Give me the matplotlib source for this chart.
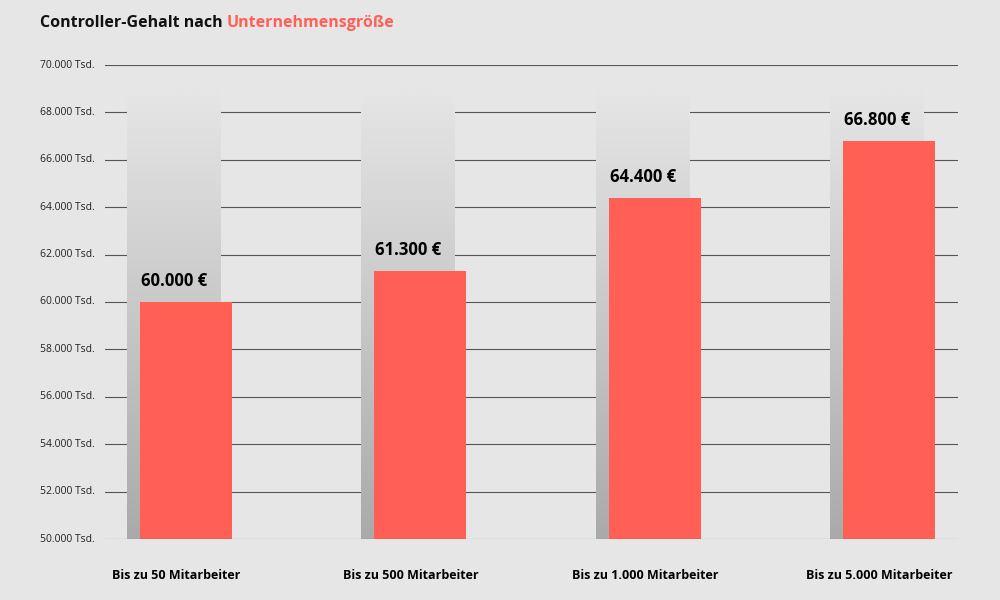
import matplotlib
matplotlib.use("Agg")
import matplotlib.pyplot as plt
import numpy as np
from matplotlib.colors import LinearSegmentedColormap

categories = ["Bis zu 50 Mitarbeiter", "Bis zu 500 Mitarbeiter", "Bis zu 1.000 Mitarbeiter", "Bis zu 5.000 Mitarbeiter"]
values = [60000, 61300, 64400, 66800]
value_labels = ["60.000 €", "61.300 €", "64.400 €", "66.800 €"]
yticks = list(range(50000, 70001, 2000))
ytick_labels = [f"{t//1000}.000 Tsd." for t in yticks]

BG = "#e6e6e6"
RED = "#ff5f55"
FONT = ["Open Sans", "DejaVu Sans"]

fig = plt.figure(figsize=(10, 6), dpi=100, facecolor=BG)
ax = fig.add_axes([0.105, 1 - 539/600, 0.853, 474/600])
ax.set_facecolor(BG)

for t in yticks:
    ax.axhline(t, color="#555555", lw=0.8, zorder=5 if t == 50000 else 1)

grad = np.linspace(0, 1, 256).reshape(-1, 1)
cmap = LinearSegmentedColormap.from_list("g", ["#aaaaaa", "#e6e6e6"])
bw = 0.393
for i, v in enumerate(values):
    left = i - bw/2 - 0.0555
    ax.imshow(grad, extent=[left, left + 0.397, 50000, 69000], aspect="auto",
              cmap=cmap, origin="lower", zorder=2)
    ax.bar(i, v - 50000, bottom=50000, width=bw, color=RED, zorder=3)
    ax.text(i - 0.05, v + 500, value_labels[i], ha="center", va="bottom",
            fontsize=12, fontweight="bold", family=FONT, zorder=4)
    ax.text(i - 0.04, 48450, categories[i], ha="center", va="center",
            fontsize=9, fontweight="bold", family=FONT, clip_on=False)
ax.set_xlim(-0.3457, 3.2945)
ax.set_ylim(50000, 70000)

for s in ax.spines.values():
    s.set_visible(False)
ax.set_xticks([]); ax.set_yticks([])

for t, lab in zip(yticks, ytick_labels):
    y = (539 - (t - 50000) / 20000 * 474)
    fig.text(40/1000, 1 - y/600, lab, ha="left", va="center", fontsize=7.5, family=FONT, color="#222222")

t1 = fig.text(40/1000, 1 - 23/600, "Controller-Gehalt nach ", ha="left", va="center",
              fontsize=11.5, fontweight="bold", family=FONT, color="#111111")
fig.canvas.draw()
bb = t1.get_window_extent()
fig.text(bb.x1/1000, 1 - 23/600, "Unternehmensgröße", ha="left", va="center",
         fontsize=11.5, fontweight="bold", family=FONT, color=RED)

fig.savefig("out.png", dpi=100, facecolor=BG)
